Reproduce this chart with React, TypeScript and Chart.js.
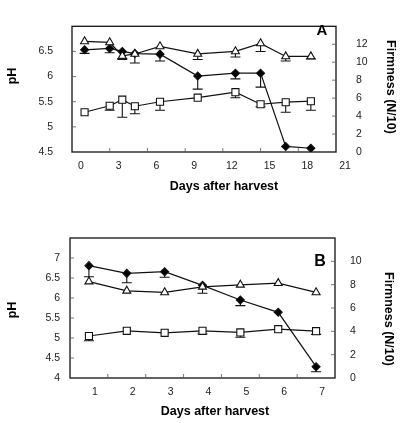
import React, { useEffect, useRef } from 'react';
import { Chart, registerables } from 'chart.js';

Chart.register(...registerables);

// ---------- Panel A data ----------
const daysA = [1, 3, 4, 5, 7, 10, 13, 15, 17, 19];
const xTicksA = [0, 3, 6, 9, 12, 15, 18, 21];
const squareA = [5.29, 5.42, 5.54, 5.41, 5.5, 5.58, 5.69, 5.45, 5.49, 5.51];
const squareLowA = [null, 5.33, 5.19, 5.26, 5.33, null, 5.58, 5.4, 5.29, 5.33];
const triangleA = [6.7, 6.68, 6.41, 6.45, 6.6, 6.45, 6.5, 6.66, 6.4, 6.4];
const triangleLowA = [null, null, 6.36, null, null, 6.34, 6.39, 6.5, 6.31, 6.35];
const diamondA = [11.38, 11.54, 11.2, 10.96, 10.9, 8.46, 8.78, 8.78, 0.62, 0.42];
const diamondLowA = [10.99, 11.06, 10.31, 9.92, 10.14, 7.0, 8.14, 7.23, null, null];

// ---------- Panel B data ----------
const daysB = [1, 2, 3, 4, 5, 6, 7];
const squareB = [5.05, 5.18, 5.13, 5.18, 5.14, 5.22, 5.17];
const squareLowB = [4.93, null, null, 5.1, 5.02, null, 5.09];
const triangleB = [6.41, 6.18, 6.14, 6.28, 6.33, 6.37, 6.14];
const triangleLowB = [null, null, null, null, null, null, null];
const diamondB = [9.63, 8.97, 9.11, 7.94, 6.69, 5.63, 0.97];
const diamondLowB = [8.68, 8.17, 8.63, 7.26, 6.2, null, 0.54];

const FONT = 'Arial, "Liberation Sans", sans-serif';
const INK = '#111';
const TXT = '#222';

type TextItem = { text: string; x: number; y: number; rot?: number; font: string };

function makePlugin(cfg: {
  xTicks: number[];
  yLeftTicks: number[];
  yRightTicks: number[];
  texts: TextItem[];
}) {
  return {
    id: 'decor',
    beforeDatasetsDraw(chart: any) {
      const ctx = chart.ctx;
      ctx.save();
      ctx.strokeStyle = INK;
      ctx.lineWidth = 1.1;
      chart.data.datasets.forEach((ds: any, i: number) => {
        const meta = chart.getDatasetMeta(i);
        const ys = chart.scales[ds.yAxisID];
        meta.data.forEach((pt: any, j: number) => {
          const lo = ds.lows ? ds.lows[j] : null;
          if (lo == null) return;
          const y2 = ys.getPixelForValue(lo);
          ctx.beginPath();
          ctx.moveTo(pt.x, pt.y);
          ctx.lineTo(pt.x, y2);
          ctx.moveTo(pt.x - 5, y2);
          ctx.lineTo(pt.x + 5, y2);
          ctx.stroke();
        });
      });
      ctx.restore();
    },
    afterDraw(chart: any) {
      const ctx = chart.ctx;
      const a = chart.chartArea;
      ctx.save();
      ctx.strokeStyle = INK;
      ctx.lineWidth = 1.3;
      ctx.strokeRect(a.left, a.top, a.right - a.left, a.bottom - a.top);
      ctx.lineWidth = 0.8;
      ctx.strokeStyle = '#555';
      const xs = chart.scales.x;
      const yl = chart.scales.y;
      const yr = chart.scales.y1;
      ctx.beginPath();
      cfg.xTicks.forEach((v) => {
        const px = xs.getPixelForValue(v);
        ctx.moveTo(px, a.bottom);
        ctx.lineTo(px, a.bottom - 4);
      });
      cfg.yLeftTicks.forEach((v) => {
        const py = yl.getPixelForValue(v);
        ctx.moveTo(a.left, py);
        ctx.lineTo(a.left + 4, py);
      });
      cfg.yRightTicks.forEach((v) => {
        const py = yr.getPixelForValue(v);
        ctx.moveTo(a.right, py);
        ctx.lineTo(a.right - 4, py);
      });
      ctx.stroke();
      ctx.fillStyle = '#000';
      ctx.textAlign = 'center';
      ctx.textBaseline = 'middle';
      cfg.texts.forEach((t) => {
        ctx.save();
        ctx.font = t.font;
        ctx.translate(t.x, t.y);
        if (t.rot) ctx.rotate(t.rot);
        ctx.fillText(t.text, 0, 0);
        ctx.restore();
      });
      ctx.restore();
    },
  };
}

function series(days: number[], vals: number[], lows: (number | null)[], style: string, fill: string, axis: string, radius: number) {
  return {
    data: days.map((d, i) => ({ x: d, y: vals[i] })),
    lows,
    yAxisID: axis,
    borderColor: INK,
    borderWidth: 1.2,
    pointStyle: style,
    pointRadius: radius,
    pointBorderWidth: 1.1,
    pointBackgroundColor: fill,
    pointBorderColor: INK,
    backgroundColor: fill,
    tension: 0,
    fill: false,
  };
}

function buildConfig(p: {
  datasets: any[];
  xMin: number; xMax: number; xTicks: number[]; xLabelOffset: number;
  yMin: number; yMax: number; yStep: number; yHide: number; yPad: number;
  y1Min: number; y1Max: number; y1Step: number; y1Hide: number; y1Pad: number;
  leftW: number; rightW: number; bottomH: number; top: number;
  plugin: any;
}) {
  const tickFont = { family: FONT, size: 10.5 };
  return {
    type: 'line',
    data: { datasets: p.datasets },
    options: {
      animation: false,
      responsive: false,
      devicePixelRatio: 1,
      layout: { padding: { top: p.top, left: 0, right: 0, bottom: 0 } },
      plugins: { legend: { display: false }, tooltip: { enabled: false }, title: { display: false } },
      scales: {
        x: {
          type: 'linear',
          min: p.xMin,
          max: p.xMax,
          afterBuildTicks: (s: any) => { s.ticks = p.xTicks.map((v) => ({ value: v })); },
          afterFit: (s: any) => { s.height = p.bottomH; },
          grid: { display: false, drawTicks: false },
          border: { display: false },
          ticks: { font: tickFont, color: TXT, padding: 8, labelOffset: p.xLabelOffset, maxRotation: 0, autoSkip: false },
        },
        y: {
          type: 'linear',
          position: 'left',
          min: p.yMin,
          max: p.yMax,
          afterFit: (s: any) => { s.width = p.leftW; },
          grid: { display: false, drawTicks: false },
          border: { display: false },
          ticks: {
            stepSize: p.yStep,
            font: tickFont,
            color: TXT,
            padding: p.yPad,
            callback: (v: number) => (Math.abs(v - p.yHide) < 1e-6 ? '' : String(v)),
          },
        },
        y1: {
          type: 'linear',
          position: 'right',
          min: p.y1Min,
          max: p.y1Max,
          afterFit: (s: any) => { s.width = p.rightW; },
          grid: { display: false, drawTicks: false },
          border: { display: false },
          ticks: {
            stepSize: p.y1Step,
            font: tickFont,
            color: TXT,
            padding: p.y1Pad,
            callback: (v: number) => (Math.abs(v - p.y1Hide) < 1e-6 ? '' : String(v)),
          },
        },
      },
    },
    plugins: [p.plugin],
  };
}

const TITLE = `bold 12.5px ${FONT}`;

export default function App() {
  const refA = useRef<HTMLCanvasElement>(null);
  const refB = useRef<HTMLCanvasElement>(null);

  useEffect(() => {
    const dsA = [
      series(daysA, squareA, squareLowA, 'rect', '#fff', 'y', 5),
      series(daysA, triangleA, triangleLowA, 'triangle', '#fff', 'y', 4.6),
      series(daysA, diamondA, diamondLowA, 'rectRot', '#000', 'y1', 4),
    ];
    const pluginA = makePlugin({
      xTicks: [3, 6, 9, 12, 15, 18],
      yLeftTicks: [5, 5.5, 6, 6.5],
      yRightTicks: [2, 4, 6, 8, 10, 12],
      texts: [
        { text: 'pH', x: 13, y: 76, rot: -Math.PI / 2, font: TITLE },
        { text: 'Firmness (N/10)', x: 390, y: 87, rot: Math.PI / 2, font: TITLE },
        { text: 'Days after harvest', x: 224, y: 187, font: TITLE },
        { text: 'A', x: 322, y: 31, font: `bold 15px ${FONT}` },
      ],
    });
    const chartA = new Chart(refA.current as any, buildConfig({
      datasets: dsA,
      xMin: 0, xMax: 21, xTicks: xTicksA, xLabelOffset: 9,
      yMin: 4.5, yMax: 7, yStep: 0.5, yHide: 7, yPad: 19,
      y1Min: 0, y1Max: 14, y1Step: 2, y1Hide: 14, y1Pad: 20,
      leftW: 72, rightW: 65, bottomH: 48, top: 8,
      plugin: pluginA,
    }) as any);

    const dsB = [
      series(daysB, squareB, squareLowB, 'rect', '#fff', 'y', 5),
      series(daysB, triangleB, triangleLowB, 'triangle', '#fff', 'y', 4.6),
      series(daysB, diamondB, diamondLowB, 'rectRot', '#000', 'y1', 4),
    ];
    const pluginB = makePlugin({
      xTicks: [1.5, 2.5, 3.5, 4.5, 5.5, 6.5],
      yLeftTicks: [4.5, 5, 5.5, 6, 6.5, 7],
      yRightTicks: [2, 4, 6, 8, 10],
      texts: [
        { text: 'pH', x: 13, y: 110, rot: -Math.PI / 2, font: TITLE },
        { text: 'Firmness (N/10)', x: 388, y: 119, rot: Math.PI / 2, font: TITLE },
        { text: 'Days after harvest', x: 215, y: 212, font: TITLE },
        { text: 'B', x: 320, y: 62, font: `bold 16px ${FONT}` },
      ],
    });
    const chartB = new Chart(refB.current as any, buildConfig({
      datasets: dsB,
      xMin: 0.5, xMax: 7.5, xTicks: daysB, xLabelOffset: 6,
      yMin: 4, yMax: 7.5, yStep: 0.5, yHide: 7.5, yPad: 10,
      y1Min: 0, y1Max: 12, y1Step: 2, y1Hide: 12, y1Pad: 15,
      leftW: 70, rightW: 66, bottomH: 45, top: 38,
      plugin: pluginB,
    }) as any);

    return () => {
      chartA.destroy();
      chartB.destroy();
    };
  }, []);

  return (
    <div style={{ position: 'absolute', left: 0, top: 0, width: 401, height: 423, background: '#fff' }}>
      <canvas ref={refA} width={401} height={200} style={{ position: 'absolute', left: 0, top: 0, width: 401, height: 200 }} />
      <canvas ref={refB} width={401} height={223} style={{ position: 'absolute', left: 0, top: 200, width: 401, height: 223 }} />
    </div>
  );
}
